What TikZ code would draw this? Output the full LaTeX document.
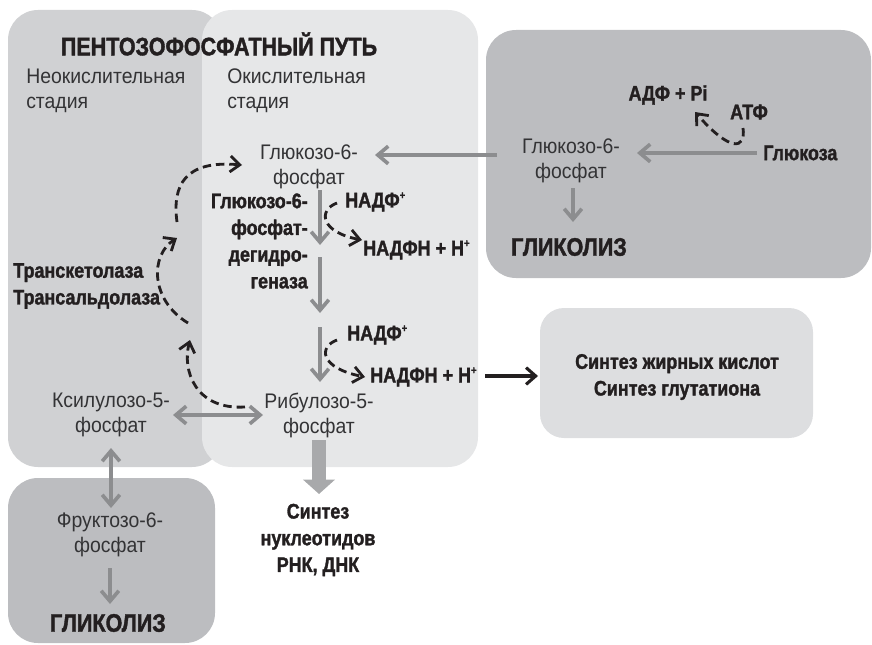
\documentclass[tikz,border=0pt]{standalone}
\usepackage{fontspec}
\setmainfont[FakeStretch=0.85, BoldFeatures={FakeBold=1.5}]{Liberation Sans}
\newfontfamily\regfont[FakeStretch=0.92]{Liberation Sans}
\usetikzlibrary{arrows.meta}
\definecolor{nonoxfill}{HTML}{D0D1D3}
\definecolor{oxfill}{HTML}{E6E7E8}
\definecolor{darkfill}{HTML}{BCBDC0}
\definecolor{synthfill}{HTML}{DDDEE0}
\definecolor{arrowgray}{HTML}{8C8D8F}
\definecolor{bigarrow}{HTML}{A8A9AB}
\definecolor{ink}{HTML}{231F20}
\definecolor{regink}{HTML}{333335}
\newcommand{\plussup}{\raisebox{0.75ex}{\fontsize{8}{8}\selectfont +}}

\begin{document}
\begin{tikzpicture}[x=0.025cm,y=-0.025cm]
\tikzstyle{every node}+=[inner sep=0pt]
\tikzstyle{reg}=[font=\regfont\fontsize{15}{17.8}\selectfont, text=regink, align=center]
\tikzstyle{bld}=[font=\bfseries\fontsize{15}{19}\selectfont, text=ink, align=center]
\tikzstyle{big}=[font=\bfseries\fontsize{18}{22}\selectfont, text=ink]
\tikzstyle{garrow}=[arrowgray, line width=2.6pt, -{Straight Barb[length=2.6mm,width=4.4mm]}]
\tikzstyle{gboth}=[garrow, {Straight Barb[length=2.6mm,width=4.4mm]}-{Straight Barb[length=2.6mm,width=4.4mm]}]
\tikzstyle{dasharrow}=[ink, line width=2pt, dash pattern=on 6pt off 3.5pt, -{Straight Barb[length=2.4mm,width=4mm]}]
\useasboundingbox (0,0) rectangle (872,644);
\fill [nonoxfill, rounded corners=0.75cm] (8,10) rectangle (222,467);
\fill [oxfill, rounded corners=0.75cm] (202,10) rectangle (478,467);
\fill [darkfill, rounded corners=0.75cm] (486,30) rectangle (871,278);
\fill [darkfill, rounded corners=0.75cm] (8,478) rectangle (215,643);
\fill [synthfill, rounded corners=0.6cm] (540,308) rectangle (813,438);
\node [big] (title) at (219,44) {ПЕНТОЗОФОСФАТНЫЙ ПУТЬ};
\node [reg, anchor=west, align=left] (nonox) at (26,91) {Неокислительная\\стадия};
\node [reg, anchor=west, align=left] (ox) at (227,91) {Окислительная\\стадия};
\node [reg] (g6p) at (309,167) {Глюкозо-6-\\фосфат};
\node [bld, anchor=east, align=right] (g6pdh) at (308,241) {Глюкозо-6-\\фосфат-\\дегидро-\\геназа};
\node [bld, anchor=west] (nadp1) at (345,202) {НАДФ\plussup};
\node [bld, anchor=west] (nadph1) at (363,250) {НАДФН + Н\plussup};
\node [bld, anchor=west] (nadp2) at (347,335) {НАДФ\plussup};
\node [bld, anchor=west] (nadph2) at (370,377) {НАДФН + Н\plussup};
\node [reg] (rib5p) at (319,415) {Рибулозо-5-\\фосфат};
\node [reg] (xyl5p) at (111,415) {Ксилулозо-5-\\фосфат};
\node [bld, anchor=west, align=left] (tk) at (13,286) {Транскетолаза\\Трансальдолаза};
\node [reg] (f6p) at (110,535) {Фруктозо-6-\\фосфат};
\node [big] (glyc1) at (108,623) {ГЛИКОЛИЗ};
\node [bld] (nucl) at (318,540) {Синтез\\нуклеотидов\\РНК, ДНК};
\node [bld] (synth) at (677,377) {Синтез жирных кислот\\Синтез глутатиона};
\node [reg] (g6p2) at (571,161) {Глюкозо-6-\\фосфат};
\node [big] (glyc2) at (569,247) {ГЛИКОЛИЗ};
\node [bld, anchor=west] (glc) at (763,153) {Глюкоза};
\node [bld] (atp) at (749,112) {АТФ};
\node [bld] (adp) at (668,95) {АДФ + Pi};
\coordinate (g6p2-w) at (497,155);
\coordinate (g6p-e) at (375,155);
\coordinate (g6p2-s) at (573,188);
\coordinate (glyc2-n) at (573,222);
\coordinate (glc-w) at (757,153);
\coordinate (g6p2-e) at (637,153);
\coordinate (xyl5p-e) at (173,415);
\coordinate (rib5p-w) at (263,415);
\coordinate (xyl5p-s) at (111,448);
\coordinate (f6p-n) at (111,508);
\coordinate (f6p-s) at (110,568);
\coordinate (glyc1-n) at (110,604);
\coordinate (rib5p-s) at (319,440);
\coordinate (nucl-n) at (319,494);
\coordinate (nadph2-e) at (485,376);
\coordinate (synth-w) at (538,376);
\draw [garrow] (g6p2-w) -- (g6p-e);
\draw [garrow] (g6p2-s) -- (glyc2-n);
\draw [garrow] (glc-w) -- (g6p2-e);
\foreach \i/\a/\b in {1/190/245,2/257/313,3/327/382}{
\coordinate (ox\i-top) at (320,\a);
\coordinate (ox\i-bot) at (320,\b);
\draw [garrow] (ox\i-top) -- (ox\i-bot);
}
\draw [gboth] (xyl5p-e) -- (rib5p-w);
\draw [gboth] (xyl5p-s) -- (f6p-n);
\draw [garrow] (f6p-s) -- (glyc1-n);
\draw [bigarrow, line width=0.35cm, -{Triangle[length=0.36cm,width=0.78cm]}] (rib5p-s) -- (nucl-n);
\draw [ink, line width=2.2pt, -{Straight Barb[length=2.4mm,width=4.2mm]}] (nadph2-e) -- (synth-w);
\coordinate (nadp1-a) at (337,203);
\coordinate (nadph1-a) at (362,240);
\coordinate (nadp2-a) at (337,340);
\coordinate (nadph2-a) at (365,377);
\coordinate (atp-a) at (743,128);
\coordinate (adp-a) at (695,112);
\draw [dasharrow] (nadp1-a) .. controls (318,210) and (320,232) .. (nadph1-a);
\draw [dasharrow] (nadp2-a) .. controls (318,347) and (320,368) .. (nadph2-a);
\draw [dasharrow] (atp-a) .. controls (746,150) and (730,152) .. (adp-a);
\coordinate (rib5p-a) at (245,407);
\coordinate (tk-a) at (190,340);
\coordinate (tk-b) at (188,323);
\coordinate (tk-c) at (177,238);
\coordinate (tk-d) at (177,222);
\coordinate (g6p-a) at (242,165);
\draw [dasharrow] (rib5p-a) .. controls (195,410) and (182,370) .. (tk-a);
\draw [dasharrow] (tk-b) .. controls (150,300) and (150,255) .. (tk-c);
\draw [dasharrow] (tk-d) .. controls (172,185) and (185,160) .. (g6p-a);
\end{tikzpicture}
\end{document}
